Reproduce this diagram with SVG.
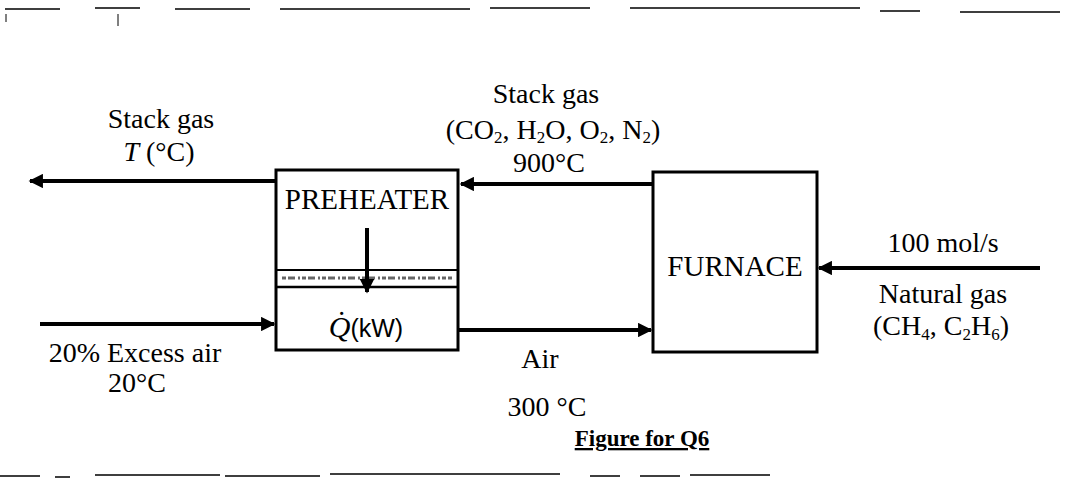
<svg xmlns="http://www.w3.org/2000/svg" width="1070" height="492" viewBox="0 0 1070 492">
<style>
.t{font-family:"Liberation Serif","Times New Roman",serif;font-size:28px;fill:#000;text-anchor:middle}
.b{font-family:"Liberation Serif","Times New Roman",serif;font-size:29px;fill:#000;text-anchor:middle}
.s{font-size:17px}
.box{fill:#fff;stroke:#000;stroke-width:3}
.flow{stroke:#000;stroke-width:4;fill:none;marker-end:url(#ah)}
.noise{stroke:#000;fill:none}
</style>
<defs>
<marker id="ah" viewBox="0 0 10 10" refX="9" refY="5" markerWidth="5" markerHeight="3.6" orient="auto" markerUnits="strokeWidth">
<path d="M0,0 L10,5 L0,10 z" fill="#000"/>
</marker>
</defs>
<rect width="1070" height="492" fill="#fff"/>
<g id="scan-edges">
<path class="noise" stroke-width="1.5" d="M5,9 H60 M95,8 H140 M175,9 H250 M280,9 H470 M490,8 H590 M630,8 H860 M880,11 H920 M960,12 H1060"/>
<path class="noise" stroke-width="1" d="M6,14 V22 M118,14 V26"/>
<path class="noise" stroke-width="1.5" d="M0,476 H40 M55,477 H70 M95,475 H220 M225,476 H320 M330,474 H560 M590,476 H620 M640,476 H680 M690,475 H770"/>
</g>
<g id="connectors">
<line class="flow" x1="653" y1="184" x2="461" y2="184"/>
<line class="flow" x1="277" y1="181" x2="30" y2="181"/>
<line class="flow" x1="40" y1="324" x2="274" y2="324"/>
<line class="flow" x1="459" y1="330" x2="651" y2="330"/>
<line class="flow" x1="1040" y1="268" x2="819" y2="268"/>
</g>
<g id="preheater">
<rect class="box" x="276" y="170" width="182" height="180"/>
<line x1="276" y1="270" x2="458" y2="270" stroke="#000" stroke-width="2"/>
<line x1="282" y1="278" x2="452" y2="278" stroke="#666" stroke-width="3" stroke-dasharray="4 2 7 3 2 2"/>
<line x1="276" y1="287" x2="458" y2="287" stroke="#000" stroke-width="2.5"/>
<text class="b" x="367" y="209">PREHEATER</text>
<line class="flow" x1="367" y1="228" x2="367" y2="292"/>
<text x="366" y="337" style="font-family:'Liberation Serif',serif;font-size:30px;text-anchor:middle"><tspan font-style="italic">Q&#x307;</tspan><tspan font-family="Liberation Sans" font-size="25">(kW)</tspan></text>
</g>
<g id="furnace">
<rect class="box" x="653" y="172" width="164" height="180"/>
<text class="b" x="735" y="276">FURNACE</text>
</g>
<g id="labels">
<text class="t" x="161" y="128">Stack gas</text>
<text class="t" x="159" y="161"><tspan font-style="italic">T</tspan> (°C)</text>
<text class="t" x="546" y="103">Stack gas</text>
<text class="t" x="553" y="139">(CO<tspan class="s" dy="4">2</tspan><tspan dy="-4">, H</tspan><tspan class="s" dy="4">2</tspan><tspan dy="-4">O, O</tspan><tspan class="s" dy="4">2</tspan><tspan dy="-4">, N</tspan><tspan class="s" dy="4">2</tspan><tspan dy="-4">)</tspan></text>
<text class="t" x="549" y="172">900°C</text>
<text class="t" x="943" y="252">100 mol/s</text>
<text class="t" x="943" y="303">Natural gas</text>
<text class="t" x="941" y="335">(CH<tspan class="s" dy="5">4</tspan><tspan dy="-5">, C</tspan><tspan class="s" dy="5">2</tspan><tspan dy="-5">H</tspan><tspan class="s" dy="5">6</tspan><tspan dy="-5">)</tspan></text>
<text class="t" x="135" y="362">20% Excess air</text>
<text class="t" x="137" y="392">20°C</text>
<text class="t" x="540" y="368">Air</text>
<text class="t" x="547" y="416">300 °C</text>
<text x="642" y="446" style="font-family:'Liberation Serif',serif;font-size:23px;font-weight:bold;text-anchor:middle" text-decoration="underline">Figure for Q6</text>
</g>
</svg>
